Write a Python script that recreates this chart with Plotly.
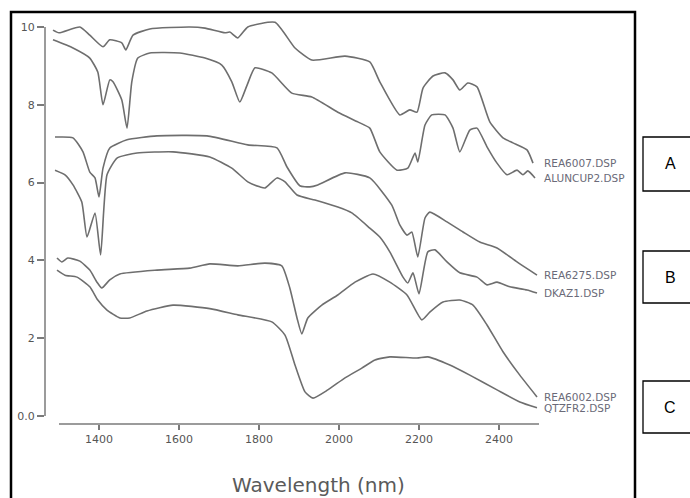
import plotly.graph_objects as go

# Reflectance spectra (offset for display), wavelength in nm
wl_rea6007 = [1285, 1300, 1352, 1377, 1410, 1427, 1457, 1467, 1485, 1527, 1627, 1665, 1715, 1727, 1747,
              1772, 1840, 1890, 1932, 2015, 2077, 2102, 2152, 2177, 2195, 2210, 2235, 2265, 2285,
              2302, 2322, 2345, 2377, 2410, 2435, 2470, 2485]
r_rea6007 = [9.92, 9.85, 10.0, 9.79, 9.49, 9.67, 9.59, 9.41, 9.79, 9.95, 10.0, 9.97, 9.85, 9.87, 9.72,
             10.0, 10.12, 9.46, 9.15, 9.25, 9.10, 8.59, 7.74, 7.87, 7.81, 8.43, 8.74, 8.82, 8.64,
             8.38, 8.56, 8.46, 7.56, 7.15, 7.02, 6.84, 6.5]

wl_aluncup2 = [1285, 1335, 1377, 1397, 1410, 1427, 1435, 1457, 1470, 1482, 1497, 1527, 1602, 1665,
               1707, 1732, 1752, 1770, 1790, 1832, 1882, 1932, 1997, 2047, 2077, 2102, 2145, 2172,
               2190, 2197, 2215, 2232, 2265, 2285, 2302, 2327, 2345, 2370, 2395, 2420, 2445, 2460,
               2472, 2490]
r_aluncup2 = [9.67, 9.46, 9.2, 8.84, 8.0, 8.64, 8.59, 8.12, 7.4, 8.59, 9.2, 9.33, 9.33, 9.2,
              9.02, 8.59, 8.07, 8.5, 8.95, 8.82, 8.3, 8.2, 7.81, 7.56, 7.4, 6.79, 6.32, 6.37,
              6.76, 6.53, 7.48, 7.74, 7.74, 7.4, 6.79, 7.35, 7.4, 6.92, 6.5, 6.2, 6.32, 6.2,
              6.3, 6.12]

wl_rea6275 = [1290, 1335, 1360, 1377, 1390, 1400, 1410, 1427, 1470, 1545, 1670, 1772, 1845, 1870,
              1902, 1927, 1947, 2015, 2077, 2132, 2152, 2170, 2182, 2197, 2215, 2227, 2270, 2310,
              2352, 2395, 2445, 2495]
r_rea6275 = [7.17, 7.15, 6.79, 6.27, 6.12, 5.63, 6.37, 6.89, 7.1, 7.2, 7.2, 6.97, 6.89, 6.4,
             5.92, 5.89, 5.94, 6.25, 6.12, 5.42, 4.91, 4.65, 4.73, 4.09, 5.09, 5.24, 4.99, 4.73,
             4.47, 4.32, 3.96, 3.62]

wl_dkaz1 = [1290, 1315, 1335, 1357, 1370, 1390, 1404, 1420, 1445, 1495, 1585, 1677, 1732, 1772,
            1802, 1815, 1845, 1865, 1895, 1940, 1997, 2032, 2077, 2102, 2127, 2160, 2172, 2185,
            2200, 2222, 2240, 2270, 2302, 2345, 2370, 2395, 2427, 2470, 2495]
r_dkaz1 = [6.32, 6.2, 5.94, 5.5, 4.6, 5.22, 4.14, 6.2, 6.63, 6.76, 6.79, 6.66, 6.37, 6.02,
           5.89, 5.86, 6.12, 6.02, 5.68, 5.55, 5.37, 5.22, 4.83, 4.6, 4.22, 3.57, 3.42, 3.68,
           3.14, 4.22, 4.27, 3.96, 3.68, 3.57, 3.37, 3.44, 3.32, 3.24, 3.16]

wl_rea6002 = [1295, 1307, 1322, 1352, 1377, 1395, 1407, 1427, 1452, 1545, 1627, 1677, 1747, 1815,
              1857, 1877, 1895, 1907, 1922, 1957, 1997, 2040, 2085, 2127, 2170, 2207, 2227, 2260,
              2302, 2335, 2370, 2410, 2452, 2495]
r_rea6002 = [4.06, 3.96, 4.06, 3.98, 3.75, 3.44, 3.29, 3.5, 3.65, 3.75, 3.8, 3.91, 3.86, 3.93,
             3.86, 3.29, 2.52, 2.11, 2.52, 2.85, 3.11, 3.44, 3.65, 3.44, 3.11, 2.47, 2.67, 2.93,
             2.98, 2.85, 2.34, 1.65, 1.05, 0.49]

wl_qtzfr2 = [1295, 1315, 1345, 1377, 1397, 1420, 1452, 1477, 1520, 1585, 1677, 1747, 1832, 1865,
             1890, 1915, 1935, 1972, 2015, 2057, 2090, 2127, 2195, 2222, 2277, 2327, 2395, 2452,
             2495]
r_qtzfr2 = [3.75, 3.62, 3.57, 3.32, 2.98, 2.72, 2.52, 2.52, 2.7, 2.85, 2.76, 2.6, 2.42, 2.08,
            1.31, 0.62, 0.46, 0.67, 0.98, 1.23, 1.44, 1.52, 1.49, 1.52, 1.31, 1.05, 0.67, 0.36,
            0.21]

series_names = ["REA6007.DSP", "ALUNCUP2.DSP", "REA6275.DSP", "DKAZ1.DSP", "REA6002.DSP", "QTZFR2.DSP"]
series_wl = [wl_rea6007, wl_aluncup2, wl_rea6275, wl_dkaz1, wl_rea6002, wl_qtzfr2]
series_r = [r_rea6007, r_aluncup2, r_rea6275, r_dkaz1, r_rea6002, r_qtzfr2]

x_ticks = [1400, 1600, 1800, 2000, 2200, 2400]
y_ticks = [0, 2, 4, 6, 8, 10]
y_tick_text = ["0.0", "2", "4", "6", "8", "10"]

group_labels = ["A", "B", "C"]

LINE = "#6e6e6e"
AXIS = "#7a7a7a"
TICKFONT = dict(family="DejaVu Sans", size=11, color="#555555")

fig = go.Figure()
for name, xs, ys in zip(series_names, series_wl, series_r):
    fig.add_trace(go.Scatter(x=xs, y=ys, mode="lines", name=name,
                             line=dict(color=LINE, width=1.6, shape="spline", smoothing=0.5),
                             showlegend=False))
    fig.add_annotation(x=2507, y=ys[-1], xref="x", yref="y", text=name, showarrow=False,
                       xanchor="left", yanchor="middle",
                       font=dict(family="DejaVu Sans", size=10.5, color="#6a6a78"))

# separate axis lines, drawn only over the labelled spans
fig.add_shape(type="line", xref="paper", yref="y", x0=0, x1=0, y0=0, y1=10,
              line=dict(color=AXIS, width=1.5))
fig.add_shape(type="line", xref="x", yref="paper", x0=1300, x1=2500, y0=0, y1=0,
              line=dict(color=AXIS, width=1.5))

# outer frame
fig.add_shape(type="rect", xref="paper", yref="paper", x0=-0.068, x1=1.18, y0=-0.3, y1=1.0073,
              line=dict(color="black", width=2.5), fillcolor="rgba(0,0,0,0)")

# group boxes A / B / C
box_y = [(0.5697, 0.7017), (0.2958, 0.423), (-0.022, 0.1051)]
for label, (y0, y1) in zip(group_labels, box_y):
    fig.add_shape(type="rect", xref="paper", yref="paper", x0=1.196, x1=1.32, y0=y0, y1=y1,
                  line=dict(color="black", width=1.3), fillcolor="white")
    fig.add_annotation(x=1.25, y=(y0 + y1) / 2, xref="paper", yref="paper", text=label,
                       showarrow=False, xanchor="center", yanchor="middle",
                       font=dict(family="Liberation Sans", size=16, color="black"))

fig.add_annotation(x=0.546, y=-0.148, xref="paper", yref="paper", text="Wavelength (nm)",
                   showarrow=False, xanchor="center", yanchor="middle",
                   font=dict(family="DejaVu Sans", size=20, color="#5a5a5a"))

fig.update_xaxes(range=[1265, 2515], tickvals=x_ticks, ticks="outside", ticklen=5,
                 tickcolor=AXIS, tickwidth=1.5, tickfont=TICKFONT,
                 showgrid=False, zeroline=False, showline=False)
fig.update_yaxes(range=[-0.206, 10.308], tickvals=y_ticks, ticktext=y_tick_text,
                 ticks="outside", ticklen=7, tickcolor=AXIS, tickwidth=1.5, tickfont=TICKFONT,
                 showgrid=False, zeroline=False, showline=False)

fig.update_layout(width=690, height=498, margin=dict(l=45, r=145, t=15, b=74),
                  plot_bgcolor="white", paper_bgcolor="white")

fig.write_html("out.html")
